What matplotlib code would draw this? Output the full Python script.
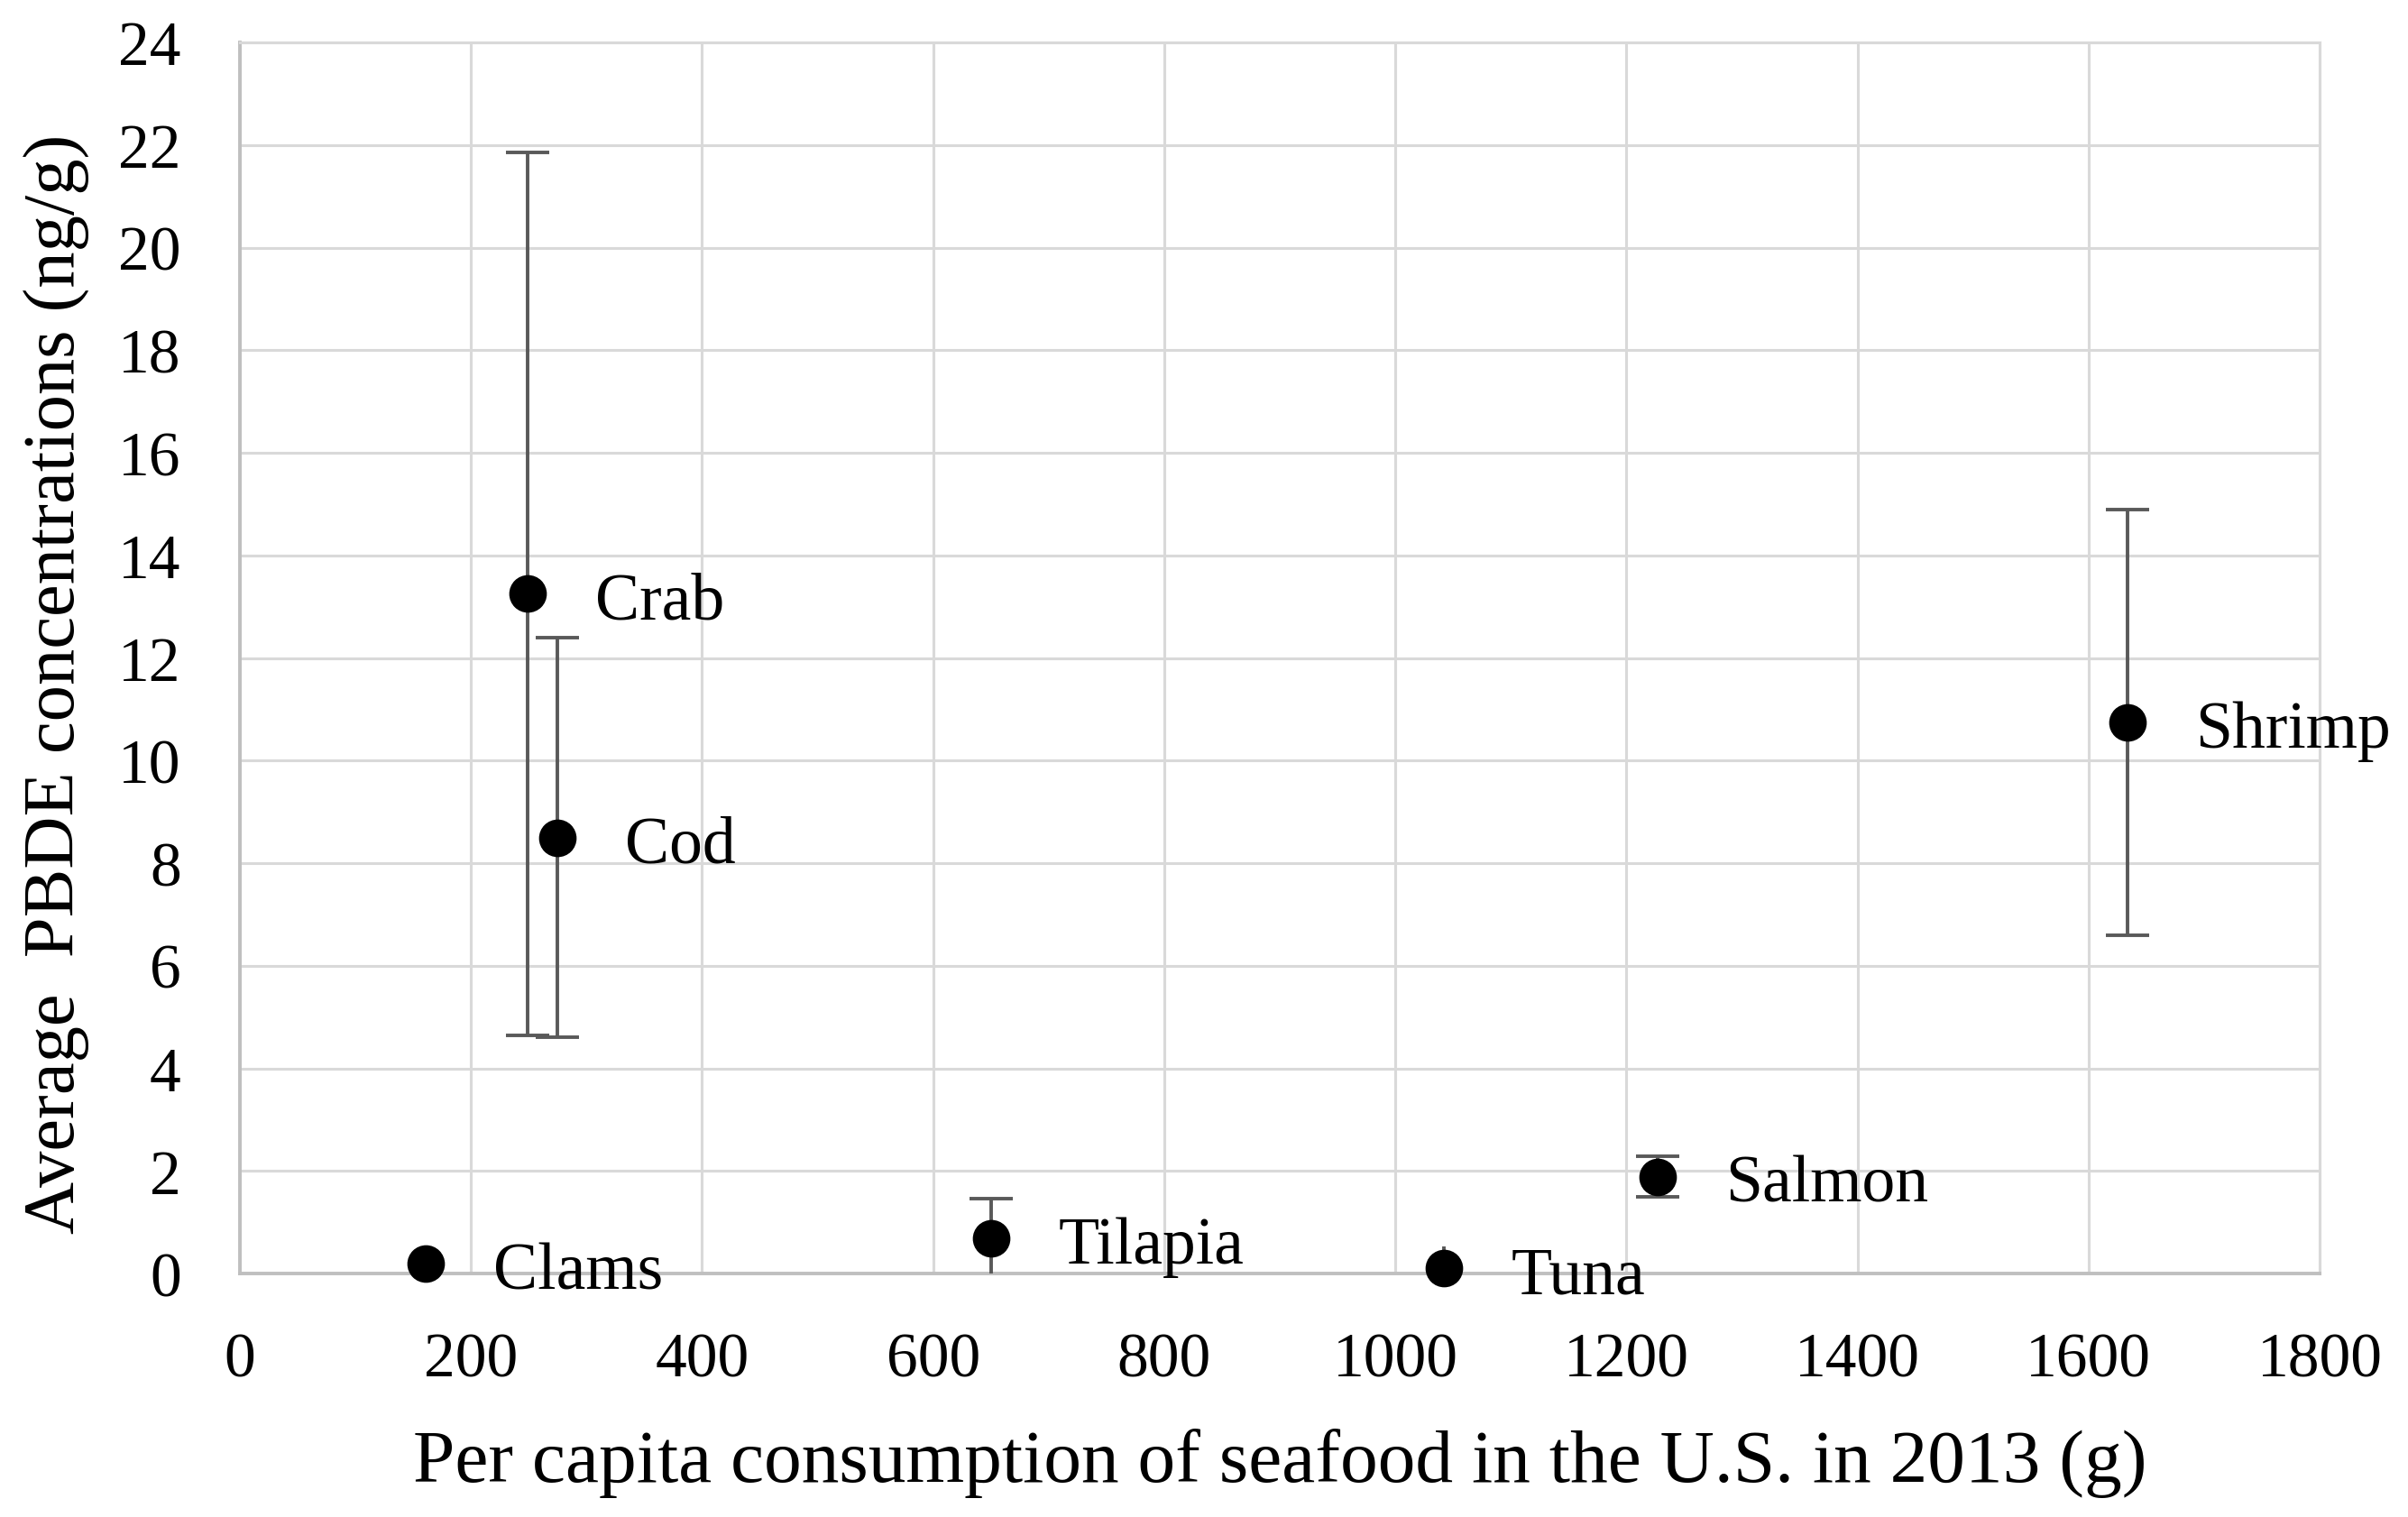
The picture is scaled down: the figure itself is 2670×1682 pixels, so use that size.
import matplotlib
matplotlib.use("Agg")
import matplotlib.pyplot as plt
import numpy as np

plt.rcParams['font.family'] = ['Liberation Serif', 'DejaVu Serif']

species = ["Crab", "Cod", "Clams", "Tilapia", "Tuna", "Salmon", "Shrimp"]
consumption = [249, 275, 161, 650, 1042, 1227, 1634]
pbde = [13.25, 8.5, 0.19, 0.69, 0.1, 1.89, 10.75]
err = [8.6, 3.9, 0.0, 0.77, 0.0, 0.40, 4.15]
tuna_err = 0.42

x_ticks = list(range(0, 1801, 200))
y_ticks = list(range(0, 25, 2))

fig = plt.figure(figsize=(26.7, 16.83), dpi=100)
ax = fig.add_axes([266/2670, 1 - 1413/1683, (2572-266)/2670, (1413-48)/1683])

ax.set_xlim(0, 1800)
ax.set_ylim(0, 24)
ax.set_xticks(x_ticks)
ax.set_yticks(y_ticks)
ax.tick_params(axis='both', length=0, labelsize=50, pad=47, colors='black')
ax.grid(True, color='#d9d9d9', linewidth=2.2, zorder=0)
ax.set_axisbelow(True)
for s in ['top', 'right']:
    ax.spines[s].set_color('#d9d9d9')
    ax.spines[s].set_linewidth(2.2)
for s in ['left', 'bottom']:
    ax.spines[s].set_color('#bfbfbf')
    ax.spines[s].set_linewidth(2.8)

x = np.array(consumption)
y = np.array(pbde)
e = np.array(err)
m = e > 0
ax.errorbar(x[m], y[m], yerr=e[m], fmt='none', ecolor='#595959', elinewidth=2.8,
            capsize=17, capthick=2.8, zorder=3)
ti = species.index("Tuna")
ax.errorbar([consumption[ti]], [pbde[ti]], yerr=[tuna_err], fmt='none', ecolor='#595959',
            elinewidth=2.8, capsize=0, zorder=3)
ax.plot(x, y, linestyle='none', marker='o', markersize=29, color='black',
        zorder=5, clip_on=False)

for name, xv, yv in zip(species, consumption, pbde):
    ax.annotate(name, (xv, yv), xytext=(54, -19.5), textcoords='offset points',
                ha='left', va='baseline', fontsize=53, color='black')

ax.set_xlabel("Per capita consumption of seafood in the U.S. in 2013 (g)", fontsize=60)
ax.xaxis.label.set_va('baseline')
ax.xaxis.set_label_coords(0.5, (1413-1643)/1365)
ax.set_ylabel("Average  PBDE concentrations (ng/g)", fontsize=58)
ax.yaxis.label.set_va('baseline')
ax.yaxis.set_label_coords((83-266)/2306, (1413-758)/1365)

fig.savefig("out.png", dpi=100, facecolor='white')
